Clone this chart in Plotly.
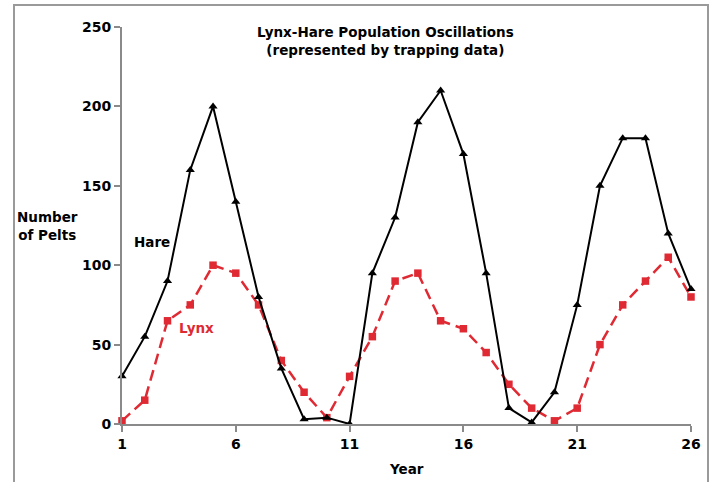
import plotly.graph_objects as go

years = list(range(1, 27))
hare = [30, 55, 90, 160, 200, 140, 80, 35, 3, 4, 0, 95, 130, 190, 210, 170, 95, 10, 1, 20, 75, 150, 180, 180, 120, 85]
lynx = [2, 15, 65, 75, 100, 95, 75, 40, 20, 4, 30, 55, 90, 95, 65, 60, 45, 25, 10, 2, 10, 50, 75, 90, 105, 80]
x_ticks = [1, 6, 11, 16, 21, 26]
y_ticks = [0, 50, 100, 150, 200, 250]

RED = "#df2a33"
FONT = "DejaVu Sans"

fig = go.Figure()
fig.add_trace(go.Scatter(
    x=years, y=lynx, mode="lines+markers", name="Lynx",
    line=dict(color=RED, width=2.5, dash="11px,6px"),
    marker=dict(symbol="square", size=7.5, color=RED),
    cliponaxis=False,
))
fig.add_trace(go.Scatter(
    x=years, y=hare, mode="lines+markers", name="Hare",
    line=dict(color="black", width=2),
    marker=dict(symbol="triangle-up", size=8, color="black"),
    cliponaxis=False,
))

fig.update_layout(
    width=712, height=482,
    margin=dict(l=122, r=21, t=27, b=58),
    paper_bgcolor="white", plot_bgcolor="white",
    showlegend=False,
    font=dict(family=FONT, color="black"),
    xaxis=dict(range=[1, 26], tickvals=x_ticks, ticktext=[f"<b>{v}</b>" for v in x_ticks],
               showgrid=False, zeroline=False, showline=True, linecolor="#8a8a8a", linewidth=2,
               ticks="outside", ticklen=6, tickcolor="#8a8a8a", tickwidth=1.5,
               tickfont=dict(size=14, family=FONT)),
    yaxis=dict(range=[0, 250], tickvals=y_ticks, ticktext=[f"<b>{v}</b>" for v in y_ticks],
               showgrid=False, zeroline=False, showline=True, linecolor="#8a8a8a", linewidth=2,
               ticks="outside", ticklen=6, tickcolor="#8a8a8a", tickwidth=1.5,
               tickfont=dict(size=14, family=FONT)),
)

# outer frame (bottom edge falls outside the picture)
fig.add_shape(type="rect", xref="paper", yref="paper",
              x0=(14 - 122) / 569, x1=(708 - 122) / 569,
              y0=(424 - 486) / 397, y1=(424 - 5) / 397,
              line=dict(color="#9a9a9a", width=2), layer="below")

ann = [
    dict(text="<b>Lynx-Hare Population Oscillations<br>(represented by trapping data)</b>",
         x=385, y=41, size=13.5, color="black"),
    dict(text="<b>Number<br>of Pelts</b>", x=47, y=226, size=13.5, color="black"),
    dict(text="<b>Hare</b>", x=152, y=242, size=13.5, color="black"),
    dict(text="<b>Lynx</b>", x=196, y=328, size=13.5, color=RED),
    dict(text="<b>Year</b>", x=406, y=469, size=13.5, color="black"),
]
for a in ann:
    fig.add_annotation(text=a["text"], xref="paper", yref="paper",
                       x=(a["x"] - 122) / 569, y=(424 - a["y"]) / 397,
                       xanchor="center", yanchor="middle", showarrow=False,
                       align="center", font=dict(size=a["size"], color=a["color"], family=FONT))

fig.write_html("out.html", config={"displayModeBar": False},
               post_script="document.body.style.margin='0';document.body.style.overflow='hidden';")
